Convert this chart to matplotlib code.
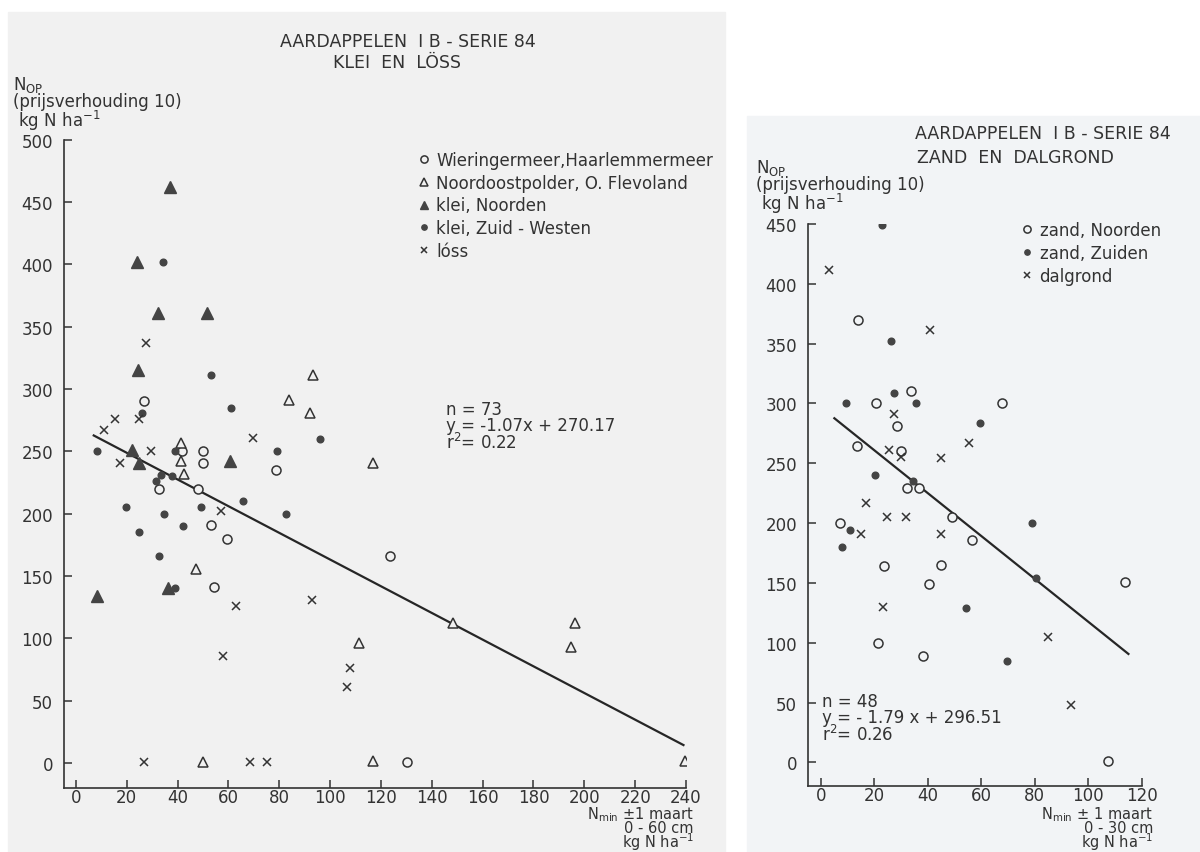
import numpy as np
import matplotlib.pyplot as plt
from matplotlib.patches import Rectangle

plt.rcParams['font.family'] = ['DejaVu Sans']
plt.rcParams['mathtext.default'] = 'regular'

INK = '#333333'
BG_L = '#f1f1f1'
BG_R = '#f2f4f6'

# --- klei en loss (links)
wier_x = [26.6, 41.6, 50.1, 50.1, 78.7, 32.8, 48.2, 53.0, 59.6, 54.3, 123.6, 130.2]
wier_y = [290, 250, 250, 241, 235, 220, 220, 191, 180, 141, 166, 1]

noord_x = [93.2, 84.0, 92.2, 41.3, 41.3, 42.6, 47.2, 116.7, 111.2, 49.9, 116.7, 148.3, 196.5, 194.8, 239.8]
noord_y = [311, 291, 281, 257, 242, 232, 156, 241, 96, 1, 2, 112, 112, 93, 2]

kleiN_x = [37.0, 23.9, 32.2, 51.4, 24.3, 21.9, 24.8, 60.6, 8.1, 36.3]
kleiN_y = [462, 402, 361, 361, 315, 251, 241, 242, 134, 140]

kleiZW_x = [34.1, 53.0, 61.0, 26.1, 96.0, 8.1, 39.0, 79.1, 33.5, 37.7, 31.4, 65.6,
            19.6, 49.2, 34.5, 82.7, 42.2, 24.9, 32.8, 39.0]
kleiZW_y = [402, 311, 285, 281, 260, 250, 250, 250, 231, 230, 226, 210,
            205, 205, 200, 200, 190, 185, 166, 140]

loss_x = [27.6, 15.4, 24.8, 11.0, 69.6, 29.4, 17.3, 57.1, 62.9, 92.8, 58.0, 107.9, 106.6, 26.9, 68.5, 75.0]
loss_y = [337, 276, 276, 267, 261, 250, 241, 202, 126, 131, 86, 76, 61, 1, 1, 1]

fit_L = (-1.07, 270.17)
fit_L_range = [7, 239]

# --- zand en dalgrond (rechts)
zandN_x = [13.8, 33.7, 20.7, 67.6, 28.3, 13.6, 29.8, 32.2, 36.8, 49.0, 7.0, 56.6,
           23.7, 44.9, 40.5, 113.8, 21.2, 38.3, 107.5]
zandN_y = [370, 310, 300, 300, 281, 264, 260, 229, 229, 205, 200, 186,
           164, 165, 149, 151, 100, 89, 1]

zandZ_x = [22.9, 26.2, 27.4, 9.2, 35.5, 59.5, 20.3, 34.5, 79.0, 11.0, 7.9, 80.4, 54.1, 69.5]
zandZ_y = [449, 352, 309, 300, 300, 284, 240, 235, 200, 194, 180, 154, 129, 85]

dal_x = [2.9, 40.8, 27.4, 55.2, 25.4, 29.8, 45.0, 16.9, 24.7, 31.7, 14.8, 44.9, 23.1, 85.0, 93.5]
dal_y = [411, 361, 291, 267, 261, 255, 254, 217, 205, 205, 191, 191, 130, 105, 48]

fit_R = (-1.79, 296.51)
fit_R_range = [5, 115]

W, H = 1200, 853
fig = plt.figure(figsize=(12, 8.53), dpi=100)
fig.patch.set_facecolor('white')

# gescande pagina's
fig.patches.append(Rectangle((8 / W, 0), (725 - 8) / W, 1 - 13 / H,
                             transform=fig.transFigure, color=BG_L, zorder=-10))
fig.patches.append(Rectangle((747 / W, 0), (W - 747) / W, 1 - 117 / H,
                             transform=fig.transFigure, color=BG_R, zorder=-10))


def px_axes(x0, x1, y_top, y_bot):
    return fig.add_axes([x0 / W, 1 - y_bot / H, (x1 - x0) / W, (y_bot - y_top) / H])


def ftext(x, y, s, **kw):
    kw.setdefault('fontsize', 12)
    kw.setdefault('color', INK)
    kw.setdefault('va', 'center')
    return fig.text(x / W, 1 - y / H, s, **kw)


def style(ax):
    ax.set_facecolor('none')
    for s in ['top', 'right']:
        ax.spines[s].set_visible(False)
    for s in ['left', 'bottom']:
        ax.spines[s].set_color(INK)
        ax.spines[s].set_linewidth(1.2)
    ax.tick_params(direction='in', length=6, width=1.1, color=INK,
                   labelcolor=INK, labelsize=12)
    ax.tick_params(axis='y', pad=8)
    ax.tick_params(axis='x', pad=0)


def fitline(ax, fit, rng):
    xs = np.array(rng, dtype=float)
    ax.plot(xs, fit[0] * xs + fit[1], color='#262626', lw=1.6, zorder=1)


YLAB = 'N$_{OP}$\n(prijsverhouding 10)\n kg N ha$^{-1}$'

# ---------- links
axL = px_axes(64, 686, 140.5, 789)
style(axL)
axL.set_xlim(-4.7, 240)
axL.set_ylim(-20, 500)
axL.set_xticks(np.arange(0, 241, 20))
axL.set_yticks(np.arange(0, 501, 50))
fitline(axL, fit_L, fit_L_range)

axL.plot(wier_x, wier_y, 'o', ms=6.5, mfc=BG_L, mec=INK, mew=1.1, ls='none', zorder=3,
         label='Wieringermeer,Haarlemmermeer')
axL.plot(noord_x, noord_y, '^', ms=7, mfc=BG_L, mec=INK, mew=1.1, ls='none', zorder=3,
         label='Noordoostpolder, O. Flevoland')
axL.plot(kleiN_x, kleiN_y, '^', ms=8, mfc='#444444', mec='#444444', ls='none', zorder=3,
         label='klei, Noorden')
axL.plot(kleiZW_x, kleiZW_y, 'o', ms=4.8, mfc='#444444', mec='#444444', ls='none', zorder=3,
         label='klei, Zuid - Westen')
axL.plot(loss_x, loss_y, 'x', ms=5.5, mec=INK, mew=1.1, ls='none', zorder=3,
         label='lóss')

legL = axL.legend(loc='upper left', bbox_to_anchor=(419 / W, 1 - 152 / H),
                  bbox_transform=fig.transFigure, frameon=False, fontsize=12,
                  handlelength=0.6, handletextpad=0.45, labelspacing=0.28,
                  borderpad=0, borderaxespad=0, markerscale=0.8)
for t in legL.get_texts():
    t.set_color(INK)

ftext(408, 42, 'AARDAPPELEN  I B - SERIE 84', ha='center', fontsize=12.5)
ftext(397, 63, 'KLEI  EN  LÖSS', ha='center', fontsize=12.5)

ftext(13, 104, YLAB, ha='left', linespacing=0.85)

ftext(446, 427, 'n = 73\ny = -1.07x + 270.17\nr$^2$= 0.22', ha='left', linespacing=0.85)

ftext(694, 853, 'N$_{min}$ ±1 maart\n0 - 60 cm\nkg N ha$^{-1}$', ha='right', va='bottom',
      multialignment='right', fontsize=10.5, linespacing=0.74)

# ---------- rechts
axR = px_axes(808.3, 1141.8, 224.8, 786.7)
style(axR)
axR.set_xlim(-4.75, 120)
axR.set_ylim(-19.4, 450)
axR.set_xticks(np.arange(0, 121, 20))
axR.set_yticks(np.arange(0, 451, 50))
fitline(axR, fit_R, fit_R_range)

axR.plot(zandN_x, zandN_y, 'o', ms=6.5, mfc=BG_R, mec=INK, mew=1.1, ls='none', zorder=3,
         label='zand, Noorden')
axR.plot(zandZ_x, zandZ_y, 'o', ms=4.8, mfc='#444444', mec='#444444', ls='none', zorder=3,
         label='zand, Zuiden')
axR.plot(dal_x, dal_y, 'x', ms=5.5, mec=INK, mew=1.1, ls='none', zorder=3,
         label='dalgrond')

legR = axR.legend(loc='upper left', bbox_to_anchor=(1022 / W, 1 - 222 / H),
                  bbox_transform=fig.transFigure, frameon=False, fontsize=12,
                  handlelength=0.6, handletextpad=0.45, labelspacing=0.3,
                  borderpad=0, borderaxespad=0, markerscale=0.8)
for t in legR.get_texts():
    t.set_color(INK)

ftext(915, 134, 'AARDAPPELEN  I B - SERIE 84', ha='left', fontsize=12.5)
ftext(917, 158, 'ZAND  EN  DALGROND', ha='left', fontsize=12.5)

ftext(756, 187, YLAB, ha='left', linespacing=0.85)

ftext(822, 719, 'n = 48\ny = - 1.79 x + 296.51\nr$^2$= 0.26', ha='left', linespacing=0.85)

ftext(1153, 853, 'N$_{min}$ ± 1 maart\n0 - 30 cm\nkg N ha$^{-1}$', ha='right', va='bottom',
      multialignment='right', fontsize=10.5, linespacing=0.74)

fig.savefig('out.png', dpi=100)
